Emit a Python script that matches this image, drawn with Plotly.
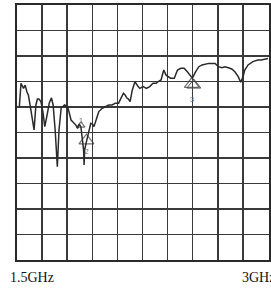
import plotly.graph_objects as go

# Trace (frequency in GHz, level in dB, 10 dB/div, top = 0 dB)
freq_ghz = [1.514, 1.524, 1.539, 1.549, 1.559, 1.568, 1.578, 1.590, 1.602, 1.613,
            1.622, 1.631, 1.643, 1.655, 1.666, 1.680, 1.693, 1.706, 1.716, 1.728,
            1.741, 1.751, 1.764, 1.784, 1.803, 1.823, 1.842, 1.852, 1.862, 1.872,
            1.882, 1.892, 1.898, 1.901, 1.904, 1.915, 1.931, 1.941, 1.951, 1.960,
            1.979, 1.989, 2.009, 2.029, 2.048, 2.068, 2.088, 2.107, 2.126, 2.136,
            2.146, 2.157, 2.166, 2.176, 2.189, 2.205, 2.224, 2.234, 2.254, 2.273,
            2.293, 2.313, 2.332, 2.342, 2.361, 2.377, 2.391, 2.401, 2.417, 2.440,
            2.459, 2.479, 2.499, 2.518, 2.538, 2.548, 2.567, 2.587, 2.606, 2.626,
            2.646, 2.684, 2.704, 2.724, 2.743, 2.763, 2.783, 2.802, 2.822, 2.837,
            2.851, 2.861, 2.881, 2.910, 2.939, 2.959, 2.978, 3.000]
level_db = [-39.9, -30.7, -32.7, -31.4, -34.0, -35.3, -39.2, -44.3, -49.0, -39.2,
            -36.9, -36.9, -37.9, -42.0, -47.7, -43.1, -38.4, -36.4, -39.2, -49.0,
            -63.4, -49.0, -40.4, -39.2, -39.9, -45.1, -46.3, -47.1, -48.4, -46.7,
            -47.8, -52.9, -56.9, -62.7, -56.9, -53.6, -49.0, -46.4, -46.7, -47.7,
            -43.8, -41.8, -40.5, -39.9, -39.2, -39.2, -38.5, -38.5, -36.0, -34.6,
            -35.3, -36.5, -36.9, -37.9, -33.3, -30.1, -32.0, -32.7, -32.0, -32.7,
            -32.0, -30.7, -30.7, -30.1, -29.4, -25.5, -27.5, -28.1, -28.7, -28.7,
            -25.5, -24.8, -24.8, -26.2, -28.1, -28.7, -26.2, -24.2, -23.5, -23.3,
            -22.9, -22.9, -24.2, -24.6, -24.2, -24.6, -25.1, -26.2, -28.1, -30.3,
            -28.1, -25.5, -23.5, -22.2, -21.6, -21.6, -21.2, -21.0]

# Markers
marker_freq = [1.882, 1.915, 2.545]
marker_level = [-47.2, -53.2, -31.0]
marker_size = [7, 13, 13]
marker_names = ["1", "2", "3"]
label_level = [-45.3, -57.6, -37.3]

freq_start, freq_stop = 1.5, 3.0
axis_labels = ["1.5GHz", "3GHz"]

fig = go.Figure()
fig.add_trace(go.Scatter(x=freq_ghz, y=level_db, mode="lines",
                         line=dict(color="#2a2a2a", width=1.5), hoverinfo="skip"))
fig.add_trace(go.Scatter(x=marker_freq, y=marker_level, mode="markers",
                         marker=dict(symbol="triangle-up-open", size=marker_size,
                                     color="#333", line=dict(width=1.2, color="#333")),
                         hoverinfo="skip"))
fig.add_trace(go.Scatter(x=[marker_freq[2] + 0.012], y=[marker_level[2] - 0.4], mode="markers",
                         marker=dict(symbol="triangle-up-open", size=12,
                                     color="#555", line=dict(width=1.0, color="#555")),
                         hoverinfo="skip"))
fig.add_trace(go.Scatter(x=marker_freq, y=label_level, mode="text", text=marker_names,
                         textfont=dict(family="Liberation Sans", size=8, color="#777"),
                         hoverinfo="skip"))

grid = dict(showgrid=True, gridcolor="#3a3a3a", gridwidth=1.5, zeroline=False,
            showticklabels=False, ticks="", showline=True, linecolor="#2a2a2a",
            linewidth=2, mirror=True)
fig.update_xaxes(range=[freq_start, freq_stop + 0.006], tick0=freq_start, dtick=0.15, **grid)
fig.update_yaxes(range=[-100, 0], tick0=0, dtick=10, **grid)

fig.add_annotation(text=axis_labels[0], xref="paper", yref="paper", x=-0.035, y=-0.068,
                   xanchor="left", yanchor="middle", showarrow=False,
                   font=dict(family="Liberation Serif", size=14, color="#111"))
fig.add_annotation(text=axis_labels[1], xref="paper", yref="paper", x=0.884, y=-0.068,
                   xanchor="left", yanchor="middle", showarrow=False,
                   font=dict(family="Liberation Serif", size=14, color="#111"))

fig.update_layout(width=271, height=288, margin=dict(l=17, r=0, t=5, b=28),
                  paper_bgcolor="white", plot_bgcolor="white", showlegend=False)
fig.write_html("out.html", config={"displayModeBar": False, "staticPlot": True})

# remove the default page margin so the figure sits at the window's top-left corner
with open("out.html", "r", encoding="utf-8") as fh:
    html = fh.read()
html = html.replace("<head>", "<head><style>html,body{margin:0;padding:0;overflow:hidden}</style>", 1)
with open("out.html", "w", encoding="utf-8") as fh:
    fh.write(html)
